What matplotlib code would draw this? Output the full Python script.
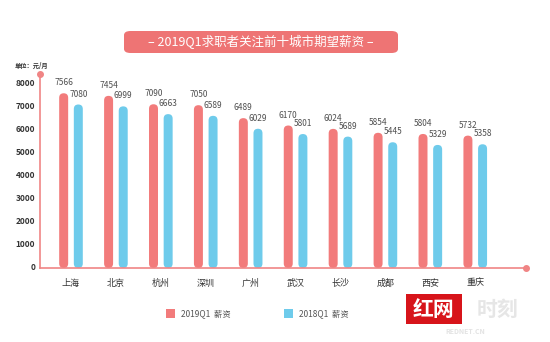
import matplotlib
matplotlib.use("Agg")
import matplotlib.pyplot as plt
from matplotlib.patches import FancyBboxPatch, Rectangle
import numpy as np

plt.rcParams['font.family'] = ['Noto Sans CJK SC', 'DejaVu Sans']

# ---- data ----
cities = ['上海', '北京', '杭州', '深圳', '广州', '武汉', '长沙', '成都', '西安', '重庆']
salary_2019 = [7566, 7454, 7090, 7050, 6489, 6170, 6024, 5854, 5804, 5732]
salary_2018 = [7080, 6999, 6663, 6589, 6029, 5801, 5689, 5445, 5329, 5358]
yticks = [0, 1000, 2000, 3000, 4000, 5000, 6000, 7000, 8000]

RED = '#F27B7B'
BLUE = '#6ECBEB'
AXIS = '#F08585'
TEXT = '#505050'

W, H = 550, 342
fig = plt.figure(figsize=(W / 100, H / 100), dpi=100)
fig.patch.set_facecolor('white')

# axes placed in pixel terms: y axis at x=40, baseline at y=268, top dot at y=74
ax = fig.add_axes([40 / W, (H - 268) / H, 486 / W, 194 / H])
ax.set_xlim(-0.69, 10.13)
ax.set_ylim(0, 8400)
ax.axis('off')

# pixel scale of data units, used to keep the bar ends round
px_x = 486 / (10.13 + 0.69)
px_y = 194 / 8400
aspect = px_x / px_y

bw = 0.2
off = 0.163
x = np.arange(len(cities))


def capsule(xc, val, color):
    p = FancyBboxPatch((xc - bw / 2, 0), bw, val,
                       boxstyle='round,pad=0,rounding_size=%f' % (bw / 2),
                       mutation_aspect=aspect, fc=color, ec='none',
                       clip_on=False, zorder=2)
    ax.add_patch(p)


for i in x:
    capsule(i - off, salary_2019[i], RED)
    capsule(i + off, salary_2018[i], BLUE)
    ax.annotate(str(salary_2019[i]), (i - off, salary_2019[i]),
                xytext=(0, 7.5), textcoords='offset points',
                ha='center', va='center', fontsize=6, color=TEXT)
    ax.annotate(str(salary_2018[i]), (i + off, salary_2018[i]),
                xytext=(0, 7.5), textcoords='offset points',
                ha='center', va='center', fontsize=6, color=TEXT)
    ax.text(i, -650, cities[i], ha='center', va='center',
            fontsize=6.5, color='#333333', clip_on=False)

# axis lines with end dots
ax.plot([-0.69, -0.69], [0, 8400], color=AXIS, lw=1.2, clip_on=False, zorder=3)
ax.plot([-0.69, 10.13], [0, 0], color=AXIS, lw=1.2, clip_on=False, zorder=3)
ax.plot([-0.69], [8400], 'o', color=AXIS, ms=4, clip_on=False, zorder=4)
ax.plot([10.13], [0], 'o', color=AXIS, ms=4, clip_on=False, zorder=4)

for t in yticks:
    ax.text(-0.80, t, str(t), ha='right', va='center', fontsize=6,
            fontweight='bold', color='#333333', clip_on=False)

fig.text(15 / W, 1 - 65 / H, '单位：元/月', fontsize=4.5, fontweight='bold',
         color='#333333', va='center', ha='left')

# title pill
pill = FancyBboxPatch((124 / W, 1 - 53 / H), 274 / W, 22 / H,
                      boxstyle='round,pad=0,rounding_size=0.012',
                      transform=fig.transFigure, fc='#EE7474', ec='none')
fig.patches.append(pill)
fig.text(261 / W, 1 - 42 / H, '– 2019Q1求职者关注前十城市期望薪资 –',
         ha='center', va='center', fontsize=9, color='white')

# legend
fig.patches.append(Rectangle((166 / W, 1 - 318 / H), 9 / W, 9 / H,
                             transform=fig.transFigure, fc=RED, ec='none'))
fig.text(181 / W, 1 - 313.5 / H, '2019Q1  薪资', fontsize=6, color='#555555',
         va='center')
fig.patches.append(Rectangle((284 / W, 1 - 318 / H), 9 / W, 9 / H,
                             transform=fig.transFigure, fc=BLUE, ec='none'))
fig.text(299 / W, 1 - 313.5 / H, '2018Q1  薪资', fontsize=6, color='#555555',
         va='center')

# watermark logo
fig.patches.append(Rectangle((406 / W, 1 - 324 / H), 56 / W, 30 / H,
                             transform=fig.transFigure, fc='#D7141A', ec='none'))
fig.text(434 / W, 1 - 309 / H, '红网', fontsize=15, fontweight='bold',
         color='white', ha='center', va='center', style='italic')
fig.text(498 / W, 1 - 309 / H, '时刻', fontsize=15, fontweight='bold',
         color='#E6E6E6', ha='center', va='center', style='italic')
fig.text(465 / W, 1 - 332 / H, 'REDNET.CN', fontsize=5, fontweight='bold',
         color='#E3E3E3', ha='center', va='center')

fig.savefig('out.png', dpi=100, facecolor='white')
